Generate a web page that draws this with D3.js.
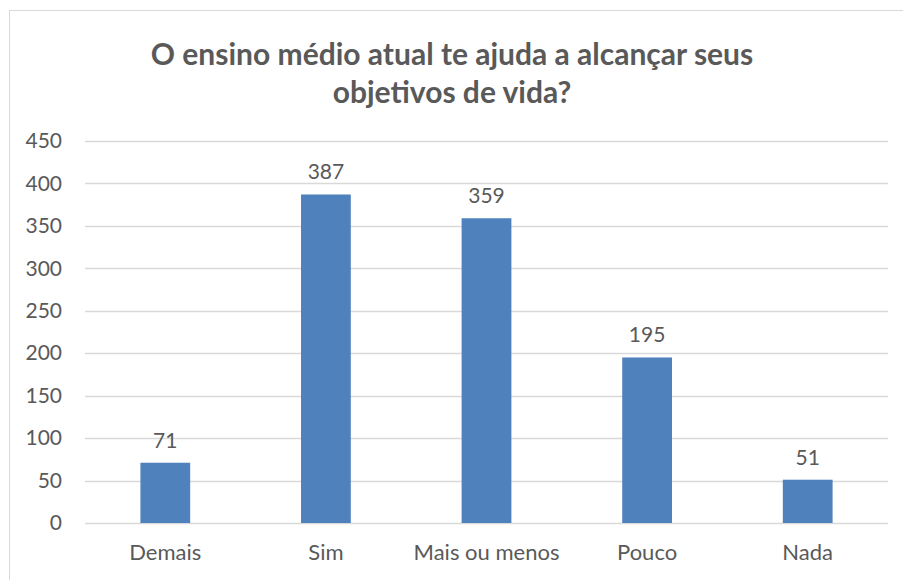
<!DOCTYPE html>
<html>
<head>
<meta charset="utf-8">
<script src="https://d3js.org/d3.v7.min.js"></script>
<style>
  body { margin: 0; background: #fff; }
  text { font-family: Lato, "Open Sans", sans-serif; fill: #595959; }
</style>
</head>
<body>
<div id="chart"></div>
<script>
var categories = ["Demais", "Sim", "Mais ou menos", "Pouco", "Nada"];
var values = [71, 387, 359, 195, 51];
var ticks = [0, 50, 100, 150, 200, 250, 300, 350, 400, 450];
var titleLines = ["O ensino médio atual te ajuda a alcançar seus", "objetivos de vida?"];

var width = 903, height = 580;
var plotLeft = 85, plotRight = 888, plotTop = 141, plotBottom = 523;

var svg = d3.select("#chart").append("svg")
  .attr("width", width)
  .attr("height", height);

// chart frame (runs off the right and bottom edges)
svg.append("rect")
  .attr("x", 9.5).attr("y", 10.5)
  .attr("width", 1000).attr("height", 1000)
  .attr("fill", "none")
  .attr("stroke", "#d9d9d9");

var x = d3.scaleBand()
  .domain(categories)
  .range([plotLeft, plotRight])
  .paddingInner(0.69)
  .paddingOuter(0.345);

var y = d3.scaleLinear()
  .domain([0, 450])
  .range([plotBottom, plotTop]);

// gridlines
svg.append("g")
  .selectAll("line")
  .data(ticks)
  .enter().append("line")
  .attr("x1", plotLeft).attr("x2", plotRight)
  .attr("y1", function(d) { return Math.round(y(d)) + 0.5; })
  .attr("y2", function(d) { return Math.round(y(d)) + 0.5; })
  .attr("stroke", "#d9d9d9")
  .attr("stroke-width", 1.5);

// y axis labels
var yAxis = d3.axisLeft(y).tickValues(ticks).tickSize(0).tickPadding(0);
var ya = svg.append("g").attr("transform", "translate(62,0)").call(yAxis);
ya.select(".domain").remove();
ya.selectAll("text").style("font-size", "21px").attr("fill", "#595959");

// x axis labels
var xAxis = d3.axisBottom(x).tickSize(0).tickPadding(0);
var xa = svg.append("g").attr("transform", "translate(0," + (plotBottom + 21) + ")").call(xAxis);
xa.select(".domain").remove();
xa.selectAll("text").style("font-size", "22px").attr("fill", "#595959");

// bars
svg.append("g")
  .selectAll("rect")
  .data(values)
  .enter().append("rect")
  .attr("x", function(d, i) { return x(categories[i]); })
  .attr("width", x.bandwidth())
  .attr("y", function(d) { return y(d); })
  .attr("height", function(d) { return y(0) - y(d); })
  .attr("fill", "#4f81bd");

// value labels
svg.append("g")
  .selectAll("text")
  .data(values)
  .enter().append("text")
  .attr("x", function(d, i) { return x(categories[i]) + x.bandwidth() / 2; })
  .attr("y", function(d) { return y(d) - 15; })
  .attr("text-anchor", "middle")
  .style("font-size", "21px")
  .text(function(d) { return d; });

// title
svg.append("g")
  .selectAll("text")
  .data(titleLines)
  .enter().append("text")
  .attr("x", 452)
  .attr("y", function(d, i) { return 65 + i * 38; })
  .attr("text-anchor", "middle")
  .style("font-size", "30px")
  .style("font-weight", "bold")
  .text(function(d) { return d; });
</script>
</body>
</html>
